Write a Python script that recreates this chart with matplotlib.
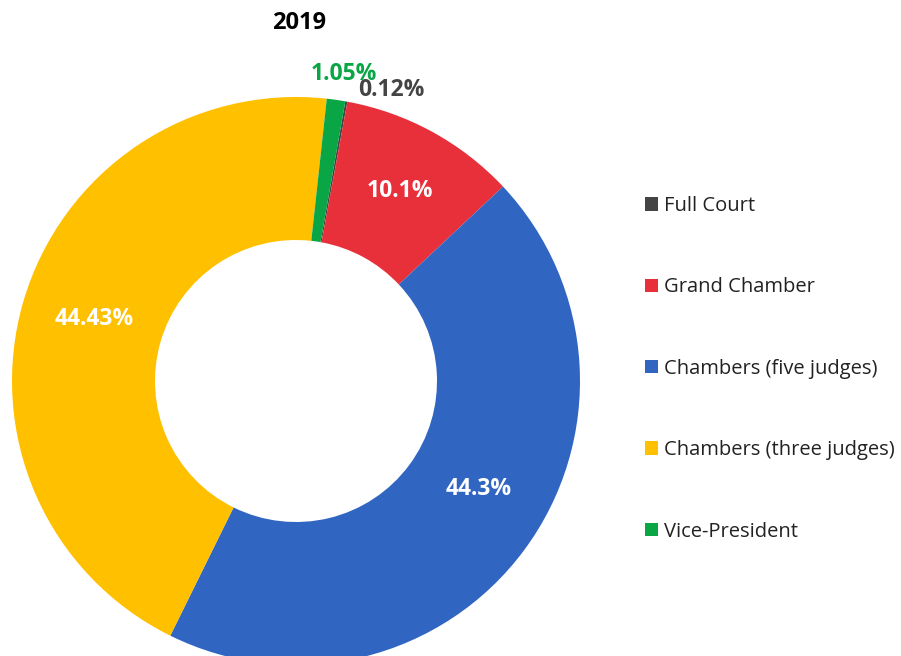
import matplotlib
matplotlib.use("Agg")
import matplotlib.pyplot as plt
from matplotlib.patches import Patch
import numpy as np

plt.rcParams['font.family'] = ['Open Sans', 'DejaVu Sans']

# data
labels = ["Full Court", "Grand Chamber", "Chambers (five judges)",
          "Chambers (three judges)", "Vice-President"]
values = [0.12, 10.1, 44.3, 44.43, 1.05]
pct_text = ["0.12%", "10.1%", "44.3%", "44.43%", "1.05%"]
colors = ["#444444", "#E8303A", "#3066C2", "#FFC000", "#0AA545"]
title = "2019"

W, H = 901, 656
fig = plt.figure(figsize=(W / 100, H / 100), dpi=100)
ax = fig.add_axes([0, 0, 1, 1])

cx, cy = 296, H - 381
r_out, r_in = 284, 141

wedges, _ = ax.pie(values, colors=colors, startangle=80, counterclock=False,
                   center=(cx, cy), radius=r_out, frame=True,
                   wedgeprops=dict(width=r_out - r_in, linewidth=0))
ax.set_xlim(0, W)
ax.set_ylim(0, H)
ax.set_aspect('equal')
ax.axis('off')

# small nudges of the label angle (degrees), the big blue one sits a bit higher
nudge = [0, 0, 5, 0, 0]

for i, w in enumerate(wedges):
    mid = np.deg2rad((w.theta1 + w.theta2) / 2 + nudge[i])
    if values[i] > 5:
        r = (r_out + r_in) / 2
        ax.text(cx + r * np.cos(mid) + 2, cy + r * np.sin(mid) + 3, pct_text[i],
                color="white", fontsize=16.5, fontweight="bold",
                ha="center", va="center")
    elif i == 0:
        r = r_out + 12
        ax.text(cx + r * np.cos(mid) + 10, cy + r * np.sin(mid), pct_text[i],
                color=colors[i], fontsize=16.5, fontweight="bold",
                ha="left", va="center")
    else:
        r = r_out + 26
        ax.text(cx + r * np.cos(mid) + 4, cy + r * np.sin(mid), pct_text[i],
                color=colors[i], fontsize=16.5, fontweight="bold",
                ha="center", va="center")

fig.text(299 / W, 1 - 23 / H, title, fontsize=17, fontweight="bold",
         ha="center", va="center", color="#000000")

handles = [Patch(facecolor=c, edgecolor='none') for c in colors]
leg = fig.legend(handles, labels, loc="upper left",
                 bbox_to_anchor=(645 / W, 1 - 196 / H), frameon=False,
                 fontsize=14.5, handlelength=0.65, handleheight=0.65,
                 handletextpad=0.3, labelspacing=3.05, borderpad=0,
                 borderaxespad=0)
for t in leg.get_texts():
    t.set_color("#222222")

fig.savefig("out.png", dpi=100)
